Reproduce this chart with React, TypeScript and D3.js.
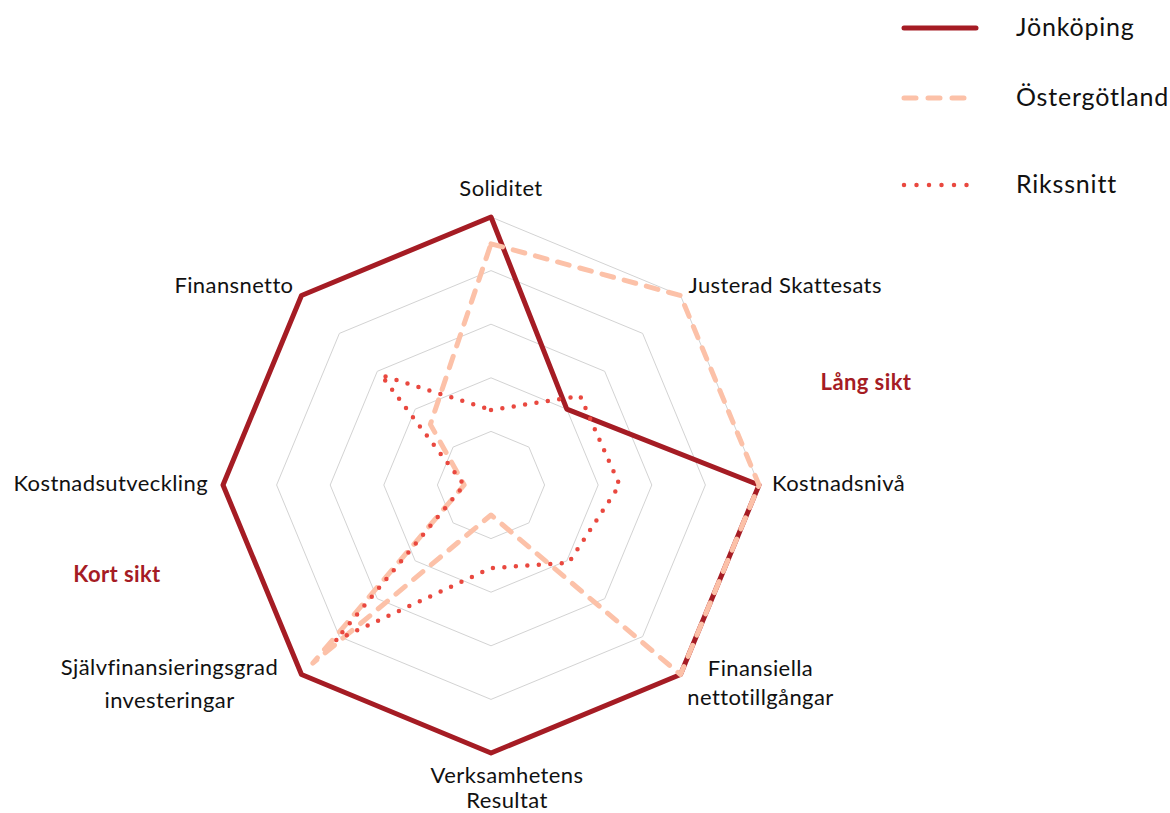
import React, { useEffect, useRef } from 'react';
import * as d3 from 'd3';

const axes = [
  'Soliditet',
  'Justerad Skattesats',
  'Kostnadsnivå',
  'Finansiella nettotillgångar',
  'Verksamhetens Resultat',
  'Självfinansieringsgrad investeringar',
  'Kostnadsutveckling',
  'Finansnetto',
];

const jonkoping = [5, 2, 5, 5, 5, 5, 5, 5];
const ostergotland = [4.5, 5, 5, 5, 0.56, 4.7, 0.5, 1.6];
const rikssnitt = [1.4, 2.35, 2.4, 2.05, 1.55, 4.1, 0.5, 2.9];

const seriesNames = ['Jönköping', 'Östergötland', 'Rikssnitt'];
const levels = [1, 2, 3, 4, 5];

const App = () => {
  const svgRef = useRef<SVGSVGElement | null>(null);

  useEffect(() => {
    if (!svgRef.current) return;
    const svg = d3.select(svgRef.current);
    svg.selectAll('*').remove();

    const w = 1170;
    const h = 813;
    const cx = 491;
    const cy = 485;
    const font = 'Lato, sans-serif';

    svg.attr('width', w).attr('height', h);

    const r = d3.scaleLinear().domain([0, 5]).range([0, 268]);
    const angle = (i: number) => (i * 2 * Math.PI) / axes.length;

    const g = svg.append('g').attr('transform', `translate(${cx},${cy})`);

    const radial = d3
      .lineRadial<number>()
      .angle((d, i) => angle(i))
      .radius((d) => r(d))
      .curve(d3.curveLinearClosed);

    // grid octagons
    g.selectAll('path.grid')
      .data(levels)
      .enter()
      .append('path')
      .attr('class', 'grid')
      .attr('d', (lv) => radial(axes.map(() => lv)))
      .attr('fill', 'none')
      .attr('stroke', '#d3d3d3')
      .attr('stroke-width', 1);

    const styles = [
      { data: jonkoping, color: '#a51c24', width: 5, dash: null, legendDash: null },
      { data: ostergotland, color: '#fcc1a8', width: 5, dash: '12 11', legendDash: '12 12' },
      { data: rikssnitt, color: '#e9483f', width: 4.5, dash: '0 11.5', legendDash: '0 12.5' },
    ];

    styles.forEach((s) => {
      const p = g
        .append('path')
        .attr('d', radial(s.data))
        .attr('fill', 'none')
        .attr('stroke', s.color)
        .attr('stroke-width', s.width)
        .attr('stroke-linejoin', 'round')
        .attr('stroke-linecap', 'round');
      if (s.dash) p.attr('stroke-dasharray', s.dash);
    });

    // axis labels
    const outer = (i: number) => {
      const a = angle(i) - Math.PI / 2;
      return [Math.cos(a) * r(5), Math.sin(a) * r(5)];
    };
    const labelDefs = [
      { lines: ['Soliditet'], dx: 10, dy: -27, anchor: 'middle', gap: 0 },
      { lines: ['Justerad Skattesats'], dx: 8, dy: -9, anchor: 'start', gap: 0 },
      { lines: ['Kostnadsnivå'], dx: 13, dy: 0, anchor: 'start', gap: 0 },
      { lines: ['Finansiella', 'nettotillgångar'], dx: 80, dy: -5, anchor: 'middle', gap: 29 },
      { lines: ['Verksamhetens', 'Resultat'], dx: 16, dy: 24, anchor: 'middle', gap: 25 },
      { lines: ['Självfinansieringsgrad', 'investeringar'], dx: -132, dy: -6, anchor: 'middle', gap: 33 },
      { lines: ['Kostnadsutveckling'], dx: -15, dy: 0, anchor: 'end', gap: 0 },
      { lines: ['Finansnetto'], dx: -8, dy: -9, anchor: 'end', gap: 0 },
    ];
    labelDefs.forEach((l, i) => {
      const [x, y] = outer(i);
      const t = g
        .append('text')
        .attr('x', x + l.dx)
        .attr('y', y + l.dy)
        .attr('text-anchor', l.anchor)
        .attr('dominant-baseline', 'middle')
        .style('font-family', font)
        .style('font-size', '22px')
        .style('letter-spacing', '0.4px')
        .attr('fill', '#111');
      l.lines.forEach((line, j) => {
        t.append('tspan')
          .attr('x', x + l.dx)
          .attr('dy', j === 0 ? 0 : l.gap)
          .text(line);
      });
    });

    // group labels
    svg.append('text')
      .attr('x', 866).attr('y', 384)
      .attr('text-anchor', 'middle').attr('dominant-baseline', 'middle')
      .style('font-family', font).style('font-size', '22px').style('font-weight', 700)
      .style('letter-spacing', '0.4px')
      .attr('fill', '#a51c24')
      .text('Lång sikt');
    svg.append('text')
      .attr('x', 117).attr('y', 576)
      .attr('text-anchor', 'middle').attr('dominant-baseline', 'middle')
      .style('font-family', font).style('font-size', '22px').style('font-weight', 700)
      .style('letter-spacing', '0.4px')
      .attr('fill', '#a51c24')
      .text('Kort sikt');

    // legend
    const legendYs = [28, 98, 185];
    seriesNames.forEach((name, i) => {
      const s = styles[i];
      const y = legendYs[i];
      const ln = svg
        .append('line')
        .attr('x1', 904).attr('x2', s.dash ? 968 : 976)
        .attr('y1', y).attr('y2', y)
        .attr('stroke', s.color)
        .attr('stroke-width', s.width)
        .attr('stroke-linecap', 'round');
      if (s.legendDash) ln.attr('stroke-dasharray', s.legendDash);
      svg.append('text')
        .attr('x', 1016).attr('y', y + 2)
        .attr('dominant-baseline', 'middle')
        .style('font-family', font).style('font-size', '25px')
        .style('letter-spacing', '0.8px')
        .attr('fill', '#111')
        .text(name);
    });
  }, []);

  return (
    <svg
      ref={svgRef}
      style={{ position: 'absolute', left: 0, top: 0, background: '#fff' }}
    ></svg>
  );
};

export default App;
